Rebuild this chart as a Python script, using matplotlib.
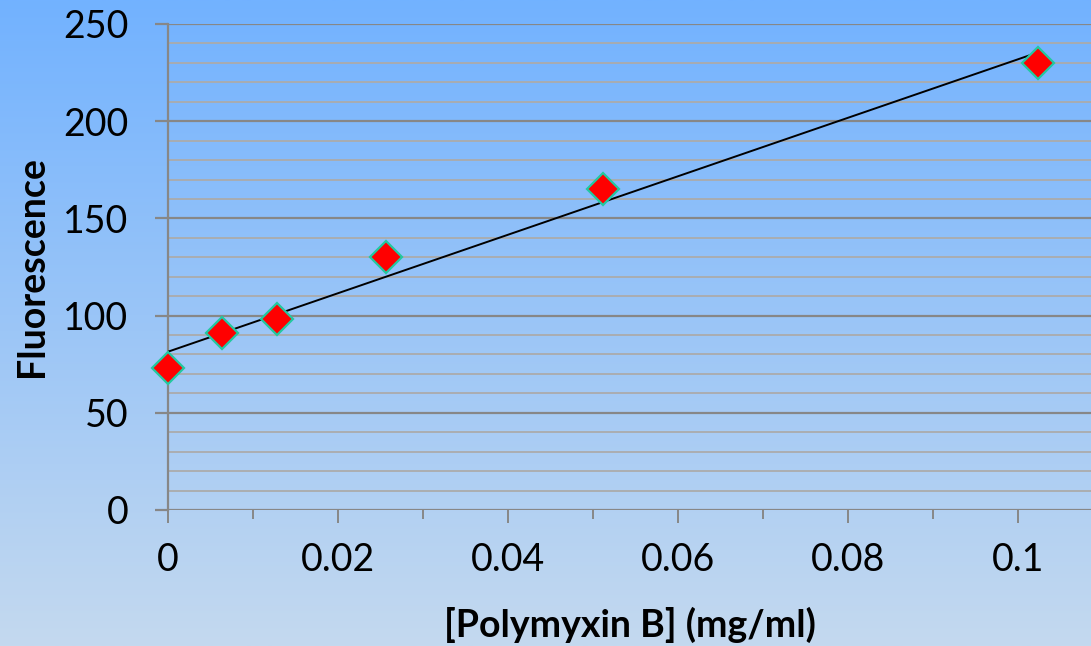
import numpy as np
import matplotlib
matplotlib.use('Agg')
from matplotlib import pyplot as plt
from matplotlib.colors import LinearSegmentedColormap
from matplotlib.ticker import MultipleLocator

# polymyxin B concentration (mg/ml) and measured fluorescence
conc = [0, 0.0064, 0.0128, 0.0256, 0.0512, 0.1024]
fluor = [73, 91, 98, 130, 165, 230]

plt.rcParams['font.family'] = ['Lato', 'DejaVu Sans']

fig = plt.figure(figsize=(10.91, 6.46), dpi=100)

# background gradient, blue at the top fading to pale blue
bg = fig.add_axes([0, 0, 1, 1], zorder=0)
cmap = LinearSegmentedColormap.from_list('bg', ['#C4D9EF', '#72B2FF'])
bg.imshow(np.linspace(0, 1, 256).reshape(-1, 1), aspect='auto', cmap=cmap,
          origin='lower', extent=[0, 1, 0, 1])
bg.axis('off')

ax = fig.add_axes([168 / 1091, 1 - 510 / 646, (1091 - 168) / 1091, (510 - 24) / 646], zorder=1)
ax.set_facecolor('none')

ax.set_xlim(0, (1091 - 168) / 8500)
ax.set_ylim(0, 250)

ax.xaxis.set_major_locator(MultipleLocator(0.02))
ax.xaxis.set_minor_locator(MultipleLocator(0.01))
ax.yaxis.set_major_locator(MultipleLocator(50))
ax.yaxis.set_minor_locator(MultipleLocator(10))

ax.grid(axis='y', which='major', color='#878787', linewidth=1.6)
ax.grid(axis='y', which='minor', color='#ABABAB', linewidth=1.3)
ax.set_axisbelow(True)

for s in ['top', 'right', 'bottom']:
    ax.spines[s].set_visible(False)
ax.spines['left'].set_color('#878787')
ax.spines['left'].set_linewidth(1.6)

ax.tick_params(axis='y', which='major', length=9.5, width=1.6, color='#878787',
               labelsize=27, pad=19)
ax.tick_params(axis='y', which='minor', length=0)
ax.tick_params(axis='x', which='major', length=9, width=1.4, color='#878787',
               labelsize=27, pad=14)
ax.tick_params(axis='x', which='minor', length=6.5, width=1.4, color='#878787')
ax.set_xticks([0, 0.02, 0.04, 0.06, 0.08, 0.1], ['0', '0.02', '0.04', '0.06', '0.08', '0.1'])

# linear trendline
m, b = np.polyfit(conc, fluor, 1)
xs = np.array([conc[0], conc[-1]])
ax.plot(xs, m * xs + b, color='black', linewidth=1.4, zorder=3)

ax.plot(conc, fluor, linestyle='none', marker='D', markersize=16.5,
        markerfacecolor='red', markeredgecolor='#22C8A0', markeredgewidth=1.6,
        clip_on=False, zorder=4)

ax.set_xlabel('[Polymyxin B] (mg/ml)', fontsize=27, fontweight='bold', labelpad=21)
ax.set_ylabel('Fluorescence', fontsize=27, fontweight='bold', labelpad=10)

fig.savefig('out.png', dpi=100)
